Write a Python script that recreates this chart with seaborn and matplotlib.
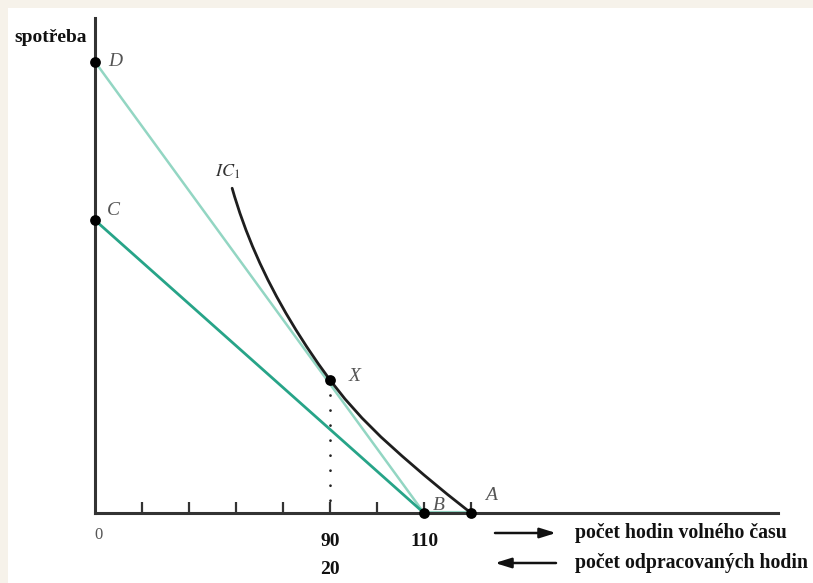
import matplotlib
matplotlib.use("Agg")
import matplotlib.pyplot as plt
from matplotlib.patches import Rectangle
import seaborn as sns
import pandas as pd

# ---- data (units: one x tick = 1) ----
tick_pos = [1, 2, 3, 4, 5, 6, 7, 8]
point_names = ["D", "C", "X", "B", "A"]
point_x = [0, 0, 5, 7, 8]
point_y = [9.6, 6.23, 2.83, 0, 0]
line_db_x = [0, 7]
line_db_y = [9.6, 0]
line_cb_x = [0, 7]
line_cb_y = [6.23, 0]
line_ba_x = [7, 8]
line_ba_y = [0, 0]
ic_x = [2.918, 2.969, 3.083, 3.211, 3.353, 3.509, 3.679, 3.864, 4.063, 4.276, 4.503,
        4.744, 5.0, 5.319, 5.681, 6.085, 6.532, 7.0, 7.489, 8.0]
ic_y = [6.91, 6.735, 6.38, 6.025, 5.67, 5.315, 4.96, 4.605, 4.25, 3.895, 3.54,
        3.185, 2.83, 2.426, 2.021, 1.617, 1.213, 0.809, 0.404, 0.0]
label_top_text = ["90", "110"]
label_top_x = [5, 7]
label_bottom_text = ["20"]
label_bottom_x = [5]
y_title = "spotřeba"
arrow_texts = ["počet hodin volného času", "počet odpracovaných hodin"]

W, H = 813, 583
sns.set_theme(style="white")
plt.rcParams["font.family"] = ["Liberation Serif", "DejaVu Serif"]

fig = plt.figure(figsize=(W / 100, H / 100), dpi=100)
fig.patch.set_facecolor("#f6f2ea")
fig.patches.append(Rectangle((8 / W, 0), 1, (H - 8) / H, transform=fig.transFigure,
                             facecolor="white", edgecolor="none", zorder=-5))

x0, y0 = 95, 513
unit = 47.0
ax = fig.add_axes([x0 / W, (H - y0) / H, (778 - x0) / W, (y0 - 18) / H])
ax.set_zorder(2)
ax.set_facecolor("none")
ax.set_xlim(0, (778 - x0) / unit)
ax.set_ylim(0, (y0 - 18) / unit)
for s in ["top", "right"]:
    ax.spines[s].set_visible(False)
for s in ["left", "bottom"]:
    ax.spines[s].set_color("#333333")
    ax.spines[s].set_linewidth(2.2)
    ax.spines[s].set_zorder(3)

mint = "#93d6c3"
teal = "#27a488"

sns.lineplot(x=line_db_x, y=line_db_y, ax=ax, color=mint, lw=1.8, sort=False, estimator=None, zorder=2)
sns.lineplot(x=line_cb_x, y=line_cb_y, ax=ax, color=teal, lw=2.0, sort=False, estimator=None, zorder=2)
sns.lineplot(x=line_ba_x, y=line_ba_y, ax=ax, color=mint, lw=3.0, sort=False, estimator=None, zorder=2)
sns.lineplot(x=ic_x, y=ic_y, ax=ax, color="#1e1e1e", lw=2.0, sort=False, estimator=None, zorder=4)

# dotted drop line from X
xi = point_names.index("X")
ax.plot([point_x[xi], point_x[xi]], [point_y[xi], 0], color="#222222", lw=2,
        linestyle=(0, (0.01, 5.4)), dash_capstyle="round", zorder=2)

pts = pd.DataFrame({"x": point_x, "y": point_y, "name": point_names})
sns.scatterplot(data=pts, x="x", y="y", ax=ax, color="black", s=60, edgecolor="black",
                linewidth=0, zorder=6, clip_on=False, legend=False)

ax.set_xlabel("")
ax.set_ylabel("")
ax.set_xticks(tick_pos)
ax.set_xticklabels([])
ax.set_yticks([])
ax.tick_params(axis="x", direction="in", length=8, width=1.6, color="#333333", bottom=True)

# point labels
offsets = {"D": (13, 0), "C": (12, 10), "X": (19, 3), "B": (9, 8), "A": (14, 17)}
for n, px, py in zip(point_names, point_x, point_y):
    dx, dy = offsets[n]
    ax.annotate(n, (px, py), xytext=(dx * 0.72, dy * 0.72), textcoords="offset points",
                ha="left", va="center", fontsize=14,
                style="italic", color="#555555", annotation_clip=False)

ax.text(2.55, 7.27, r"$IC_1$", fontsize=13, color="#333333", ha="left", va="center",
        math_fontfamily="stix")

# axis texts
fig.text(14 / W, 1 - 38 / H, y_title, fontsize=14, fontweight="bold", ha="left",
         va="center", color="#111111")
fig.text(98 / W, 1 - 535 / H, "0", fontsize=12, ha="center", va="center", color="#555555")
for t, xv in zip(label_top_text, label_top_x):
    ax.annotate(t, (xv, 0), xytext=(0, -28 * 0.72), textcoords="offset points",
                ha="center", va="center", fontsize=14, fontweight="bold", color="#111111",
                annotation_clip=False)
for t, xv in zip(label_bottom_text, label_bottom_x):
    ax.annotate(t, (xv, 0), xytext=(0, -56 * 0.72), textcoords="offset points",
                ha="center", va="center", fontsize=14, fontweight="bold", color="#111111",
                annotation_clip=False)

# arrows with texts
arrow_y = [533, 563]
for i, (t, yy) in enumerate(zip(arrow_texts, arrow_y)):
    yf = 1 - yy / H
    if i == 0:
        start, end = 495 / W, 556 / W
    else:
        start, end = 556 / W, 495 / W
    ax.annotate("", xy=(end, yf), xytext=(start, yf), xycoords="figure fraction",
                textcoords="figure fraction",
                arrowprops=dict(arrowstyle="-|>,head_length=0.8,head_width=0.25",
                                color="#111111", lw=1.8, shrinkA=0, shrinkB=0),
                annotation_clip=False)
    fig.text(575 / W, yf, t, fontsize=14.2, fontweight="bold", ha="left", va="center",
             color="#111111")

fig.savefig("out.png", dpi=100, facecolor=fig.get_facecolor())
